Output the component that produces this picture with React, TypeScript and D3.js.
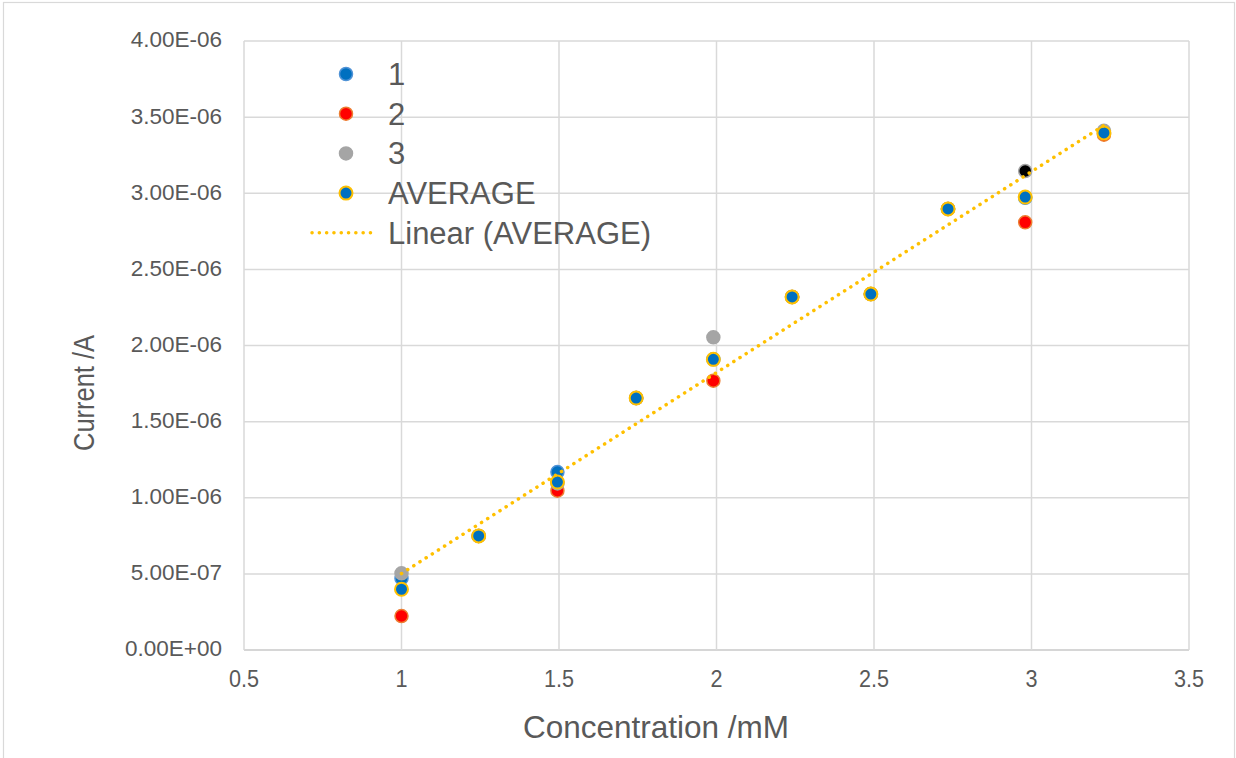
import React, { useRef, useEffect } from 'react';
import * as d3 from 'd3';

// concentrations (mM)
const concentrations = [1, 1.245, 1.495, 1.745, 1.99, 2.24, 2.49, 2.735, 2.98, 3.23];
// currents (A) per run
const run1 = [4.7e-7, 7.49e-7, 1.169e-6, 1.655e-6, 1.909e-6, 2.319e-6, 2.338e-6, 2.897e-6, 2.97e-6, 3.395e-6];
const run2 = [2.23e-7, 7.49e-7, 1.046e-6, 1.655e-6, 1.769e-6, 2.319e-6, 2.338e-6, 2.897e-6, 2.809e-6, 3.385e-6];
const run3 = [5.04e-7, 7.49e-7, 1.094e-6, 1.655e-6, 2.054e-6, 2.319e-6, 2.338e-6, 2.897e-6, 3.146e-6, 3.41e-6];
const average = [3.99e-7, 7.49e-7, 1.103e-6, 1.655e-6, 1.909e-6, 2.319e-6, 2.338e-6, 2.897e-6, 2.975e-6, 3.396e-6];

const xTicks = [0.5, 1, 1.5, 2, 2.5, 3, 3.5];
const yTicks = [0, 5e-7, 1e-6, 1.5e-6, 2e-6, 2.5e-6, 3e-6, 3.5e-6, 4e-6];

const legendItems = ['1', '2', '3', 'AVERAGE', 'Linear (AVERAGE)'];

function formatSci(v: number) {
  const [m, e] = v.toExponential(2).split('e');
  const sign = e[0] === '-' ? '-' : '+';
  const digits = String(Math.abs(+e)).padStart(2, '0');
  return `${m}E${sign}${digits}`;
}

export default function App() {
  const svgRef = useRef<SVGSVGElement>(null);

  useEffect(() => {
    const width = 1236;
    const height = 758;
    const left = 244, right = 1189, top = 41, bottom = 650;
    const textColour = '#595959';
    const gridColour = '#D9D9D9';
    const font = '"Liberation Sans", Arial, sans-serif';

    const svg = d3.select(svgRef.current);
    svg.selectAll('*').remove();
    svg.attr('width', width).attr('height', height).style('font-family', font);

    svg.append('rect')
      .attr('width', width).attr('height', height).attr('fill', 'white');
    svg.append('rect')
      .attr('x', 3.5).attr('y', 2.5)
      .attr('width', 1231).attr('height', 800)
      .attr('fill', 'none').attr('stroke', gridColour).attr('stroke-width', 1.2);

    const x = d3.scaleLinear().domain([0.5, 3.5]).range([left, right]);
    const y = d3.scaleLinear().domain([0, 4e-6]).range([bottom, top]);

    // grid
    svg.append('g').selectAll('line')
      .data(yTicks)
      .join('line')
      .attr('x1', left).attr('x2', right)
      .attr('y1', d => y(d)).attr('y2', d => y(d))
      .attr('stroke', d => (d === 0 ? '#C8C8C8' : gridColour))
      .attr('stroke-width', 1.5);

    svg.append('g').selectAll('line')
      .data(xTicks)
      .join('line')
      .attr('x1', d => x(d)).attr('x2', d => x(d))
      .attr('y1', top).attr('y2', bottom)
      .attr('stroke', gridColour)
      .attr('stroke-width', 1.5);

    // tick labels
    svg.append('g').selectAll('text')
      .data(yTicks)
      .join('text')
      .attr('x', 222)
      .attr('y', d => y(d) - 1.5)
      .attr('dy', '0.35em')
      .attr('text-anchor', 'end')
      .attr('font-size', 22.5)
      .attr('fill', textColour)
      .text(d => formatSci(d));

    svg.append('g').selectAll('text')
      .data(xTicks)
      .join('text')
      .attr('transform', d => `translate(${x(d)},687) scale(0.9,1)`)
      .attr('text-anchor', 'middle')
      .attr('font-size', 24)
      .attr('fill', textColour)
      .text(d => String(d));

    // axis titles
    svg.append('text')
      .attr('x', 656).attr('y', 738)
      .attr('text-anchor', 'middle')
      .attr('font-size', 31.5)
      .attr('fill', textColour)
      .text('Concentration /mM');

    svg.append('text')
      .attr('transform', 'translate(94,393) rotate(-90)')
      .attr('text-anchor', 'middle')
      .attr('font-size', 30)
      .attr('textLength', 116)
      .attr('lengthAdjust', 'spacingAndGlyphs')
      .attr('fill', textColour)
      .text('Current /A');

    const r = 6.5;
    const drawSeries = (vals: number[], fill: (i: number) => string, stroke: (i: number) => string, sw: number) => {
      svg.append('g').selectAll('circle')
        .data(vals)
        .join('circle')
        .attr('cx', (d, i) => x(concentrations[i]))
        .attr('cy', d => y(d))
        .attr('r', r)
        .attr('fill', (d, i) => fill(i))
        .attr('stroke', (d, i) => stroke(i))
        .attr('stroke-width', sw);
    };

    drawSeries(run1, () => '#0070C0', () => '#4F92D6', 1.5);
    drawSeries(run2, () => '#FF0000', () => '#ED7D31', 1.5);
    drawSeries(run3, i => (i === 8 ? '#000000' : '#A5A5A5'), () => '#A5A5A5', 1.5);
    drawSeries(average, () => '#0070C0', () => '#FFC000', 2);

    // linear trendline on AVERAGE
    const pts = average.map((v, i) => [concentrations[i], v] as [number, number]);
    const mx = d3.mean(pts, p => p[0]) as number;
    const my = d3.mean(pts, p => p[1]) as number;
    const slope = d3.sum(pts, p => (p[0] - mx) * (p[1] - my)) / d3.sum(pts, p => (p[0] - mx) ** 2);
    const icpt = my - slope * mx;
    const xExt = d3.extent(concentrations) as [number, number];

    svg.append('line')
      .attr('x1', x(xExt[0])).attr('y1', y(icpt + slope * xExt[0]))
      .attr('x2', x(xExt[1])).attr('y2', y(icpt + slope * xExt[1]))
      .attr('stroke', '#FFC000')
      .attr('stroke-width', 3.5)
      .attr('stroke-linecap', 'round')
      .attr('stroke-dasharray', '0.1 7.2');

    // legend
    const legend = svg.append('g');
    const lx = 346;
    const ly = (i: number) => 74 + i * 39.7;
    const markerStyles = [
      { fill: '#0070C0', stroke: '#4F92D6', sw: 1.5 },
      { fill: '#FF0000', stroke: '#ED7D31', sw: 1.5 },
      { fill: '#A5A5A5', stroke: '#A5A5A5', sw: 1.5 },
      { fill: '#0070C0', stroke: '#FFC000', sw: 2 },
    ];
    markerStyles.forEach((m, i) => {
      legend.append('circle')
        .attr('cx', lx).attr('cy', ly(i)).attr('r', r)
        .attr('fill', m.fill).attr('stroke', m.stroke).attr('stroke-width', m.sw);
    });
    legend.append('line')
      .attr('x1', 312).attr('x2', 375)
      .attr('y1', ly(4)).attr('y2', ly(4))
      .attr('stroke', '#FFC000')
      .attr('stroke-width', 3.5)
      .attr('stroke-linecap', 'round')
      .attr('stroke-dasharray', '0.1 7.2');

    legend.selectAll('text')
      .data(legendItems)
      .join('text')
      .attr('x', 388)
      .attr('y', (d, i) => ly(i))
      .attr('dy', '0.35em')
      .attr('font-size', 31)
      .attr('fill', textColour)
      .text(d => d);
  }, []);

  return (
    <svg ref={svgRef} style={{ position: 'absolute', left: 0, top: 0, display: 'block' }} />
  );
}
